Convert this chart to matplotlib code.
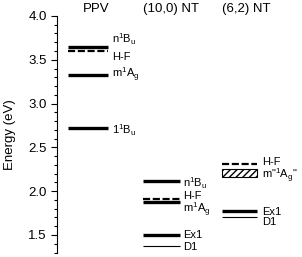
import numpy as np
import matplotlib.pyplot as plt
from matplotlib.patches import Rectangle

plt.rcParams['font.family'] = ['Liberation Sans', 'DejaVu Sans']
plt.rcParams['mathtext.fontset'] = 'custom'
plt.rcParams['mathtext.rm'] = 'Liberation Sans'

groups = ['PPV', '(10,0) NT', '(6,2) NT']

# energy levels (eV) for each group: (label, energy, style)
ppv_levels = [(r'$\mathrm{n^1B_u}$', 3.64, 'thick'), ('H-F', 3.60, 'dash'),
              (r'$\mathrm{m^1A_g}$', 3.33, 'thick'),
              (r'$\mathrm{1^1B_u}$', 2.72, 'thick')]
nt100_levels = [(r'$\mathrm{n^1B_u}$', 2.12, 'thick'), ('H-F', 1.91, 'dash'),
                (r'$\mathrm{m^1A_g}$', 1.877, 'thick'),
                ('Ex1', 1.50, 'thick'), ('D1', 1.375, 'thin')]
nt62_levels = [('H-F', 2.31, 'dash'), ('Ex1', 1.775, 'thick'),
               ('D1', 1.70, 'thin')]
nt62_band = (2.165, 2.25)   # hatched m"1Ag" band

# label baselines (eV), shifted to keep close labels apart
ppv_lab = [3.69, 3.50, 3.29, 2.645]
nt100_lab = [2.05, 1.915, 1.75, 1.465, 1.33]
nt62_lab = [2.30, 1.73, 1.615]

# x extent of each group (axis units)
x0 = [11, 86, 165]
width = [40, 37, 35]
lab_x = [55, 126, 205]
title_x = [39, 114, 189]

styles = {'thick': dict(lw=2.4, ls='-'),
          'dash': dict(lw=1.6, ls=(0, (3.2, 1.2))),
          'thin': dict(lw=0.8, ls='-')}

fig = plt.figure(figsize=(3.02, 2.57), dpi=100)
ax = fig.add_axes([0.189, 0.0175, 0.811, 0.9205])

fs = 8
for i, (levels, labys) in enumerate([(ppv_levels, ppv_lab),
                                     (nt100_levels, nt100_lab),
                                     (nt62_levels, nt62_lab)]):
    for (name, e, st), ly in zip(levels, labys):
        ax.plot([x0[i], x0[i] + width[i]], [e, e], color='k',
                solid_capstyle='butt', dash_capstyle='butt', **styles[st])
        ax.text(lab_x[i], ly, name, fontsize=fs, va='baseline', ha='left')
    ax.text(title_x[i], 4.045, groups[i], fontsize=9.5, ha='center',
            va='baseline', clip_on=False)

ax.add_patch(Rectangle((x0[2], nt62_band[0]), width[2],
                       nt62_band[1] - nt62_band[0], fill=False,
                       hatch='/////', lw=0.8, ec='k'))
ax.text(lab_x[2], 2.14, r'm"$\mathrm{{}^1A_g}$"', fontsize=fs,
        va='baseline', ha='left')

ax.set_xlim(0, 245)
ax.set_ylim(1.3, 4.0)
ax.set_yticks([1.5, 2.0, 2.5, 3.0, 3.5, 4.0])
ax.set_yticks(np.arange(1.3, 4.0, 0.1), minor=True)
ax.tick_params(axis='y', which='major', direction='out', length=4,
               width=0.8, labelsize=9.5, pad=3.5)
ax.tick_params(axis='y', which='minor', direction='out', length=2,
               width=0.8)
ax.set_xticks([])
for s in ('top', 'right', 'bottom'):
    ax.spines[s].set_visible(False)
ax.spines['left'].set_linewidth(0.8)
ax.set_ylabel('Energy (eV)', fontsize=9.5, labelpad=9)

fig.savefig('out.png', dpi=100)
